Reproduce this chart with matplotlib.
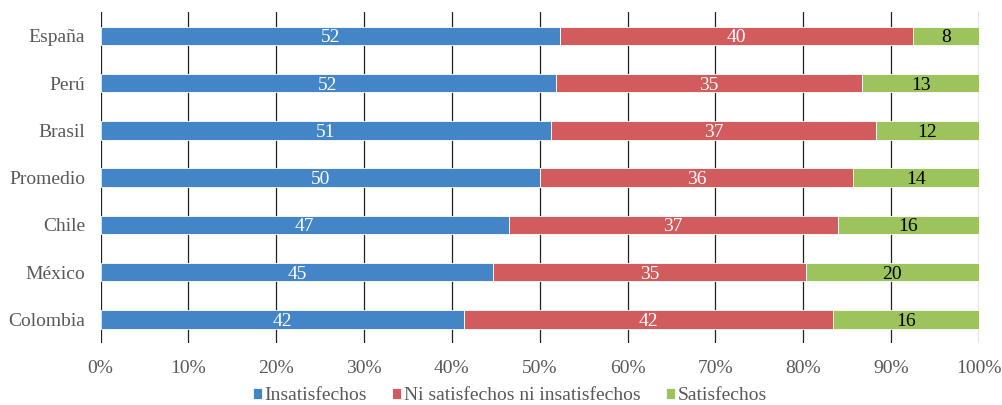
import numpy as np
import matplotlib.pyplot as plt
from matplotlib.ticker import PercentFormatter

plt.rcParams['font.family'] = ['Liberation Serif', 'DejaVu Serif']

paises = ["España", "Perú", "Brasil", "Promedio", "Chile", "México", "Colombia"]
insatisfechos = [52.3, 51.8, 51.3, 50.0, 46.5, 44.7, 41.4]
ni_ni = [40.2, 34.9, 37.0, 35.7, 37.4, 35.6, 42.0]
satisfechos = [7.5, 13.3, 11.7, 14.3, 16.1, 19.7, 16.6]

etiq_insat = [52, 52, 51, 50, 47, 45, 42]
etiq_ni = [40, 35, 37, 36, 37, 35, 42]
etiq_sat = [8, 13, 12, 14, 16, 20, 16]

series = ["Insatisfechos", "Ni satisfechos ni insatisfechos", "Satisfechos"]
colores = ["#4385C6", "#D15B5D", "#9CC35C"]
color_txt = ["white", "white", "black"]

fig = plt.figure(figsize=(10.02, 4.05), dpi=100)
ax = fig.add_axes([0.1003, 0.153, 0.8767, 0.817])

y = np.arange(len(paises))
left = np.zeros(len(paises))
for vals, etiq, nombre, col, tc in zip([insatisfechos, ni_ni, satisfechos],
                                       [etiq_insat, etiq_ni, etiq_sat],
                                       series, colores, color_txt):
    vals = np.array(vals)
    bars = ax.barh(y, vals, left=left, height=0.39, color=col, label=nombre,
                   edgecolor="white", linewidth=0.6, zorder=3)
    for rect, e in zip(bars, etiq):
        ax.text(rect.get_x() + rect.get_width() / 2, rect.get_y() + rect.get_height() / 2,
                str(e), ha="center", va="center_baseline", color=tc, fontsize=14, zorder=4)
    left = left + vals

ax.set_xlim(0, 100)
ax.set_ylim(len(paises) - 0.5, -0.5)
ax.set_yticks(y)
ax.set_yticklabels(paises)
ax.set_xticks(np.arange(0, 101, 10))
ax.xaxis.set_major_formatter(PercentFormatter(decimals=0))
ax.tick_params(length=0, labelsize=14, labelcolor="#595959")
ax.tick_params(axis="y", pad=11)
ax.tick_params(axis="x", pad=12)
ax.grid(axis="x", color="#222222", linewidth=0.9, zorder=0)
for s in ax.spines.values():
    s.set_visible(False)

ax.legend(loc="center", bbox_to_anchor=(0.466, -0.16), ncol=3, frameon=False,
          fontsize=14, handlelength=0.45, handleheight=0.45, handletextpad=0.15,
          columnspacing=1.3, labelcolor="#595959", borderpad=0, borderaxespad=0)

fig.savefig("out.png", dpi=100)
